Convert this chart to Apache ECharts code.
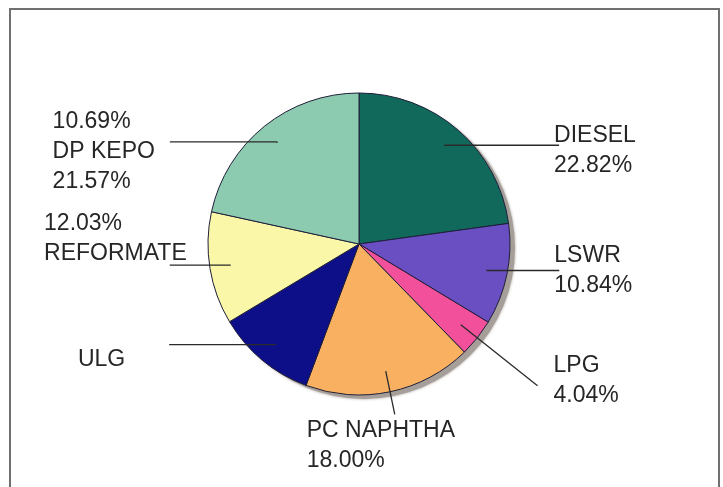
<!DOCTYPE html>
<html>
<head>
<meta charset="utf-8">
<script src="https://cdn.jsdelivr.net/npm/echarts@6/dist/echarts.min.js"></script>
<style>
html,body{margin:0;padding:0;background:#ffffff;}
#chart{width:723px;height:487px;}
</style>
</head>
<body>
<div id="chart"></div>
<script>
// ---- data ----
const categories = ['DIESEL', 'LSWR', 'LPG', 'PC NAPHTHA', 'ULG', 'REFORMATE', 'DP KEPO'];
const shares = [22.82, 10.84, 4.04, 18.00, 10.69, 12.03, 21.57];
// label rows as printed on the original chart ('n' = own name, 'p' = own share, 'p:ULG' = share of ULG)
const labelRows = [['n', 'p'], ['n', 'p'], ['n', 'p'], ['n', 'p'], ['n'], ['p', 'n'], ['p:ULG', 'n', 'p']];

// ---- styles ----
const colors = ['#11695c', '#6a4fc3', '#f2509a', '#f9b161', '#0c0f88', '#fbf7a8', '#8dcbb0'];
const labelGeom = [
  { length: 1,  length2: 114, dist: -5,  padding: [10, 0, 0, 0] },
  { length: 1,  length2: 72,  dist: -5,  padding: [0, 0, 0, 0] },
  { length: 98, length2: 0,   dist: 16,  padding: [0, 0, 10, 0] },
  { length: 44, length2: 0,   dist: -88, padding: [63, 0, 0, 0] },
  { length: 1,  length2: 106, dist: 44,  padding: [30, 0, 0, 0] },
  { length: 1,  length2: 60,  dist: -17, padding: [0, 0, 53, 0] },
  { length: 1,  length2: 107, dist: 15,  padding: [20, 0, 0, 0] }
];

const fmt = v => v.toFixed(2) + '%';
function labelText(i) {
  return labelRows[i].map(r => {
    let t;
    if (r === 'n') t = categories[i];
    else if (r === 'p') t = fmt(shares[i]);
    else t = fmt(shares[categories.indexOf(r.split(':')[1])]);
    return '{t|' + t + '}';
  }).join('\n');
}

const FONT = '"Liberation Sans", Arial, sans-serif';
const CENTER = [359, 244];

const chart = echarts.init(document.getElementById('chart'), null, { renderer: 'canvas' });

const mainData = categories.map((c, i) => ({ name: c, value: shares[i], itemStyle: { color: colors[i] } }));
const labelData = categories.map((c, i) => ({
  name: c,
  value: shares[i],
  label: {
    formatter: () => labelText(i),
    distanceToLabelLine: labelGeom[i].dist,
    padding: labelGeom[i].padding
  },
  labelLine: { length: labelGeom[i].length, length2: labelGeom[i].length2 }
}));

chart.setOption({
  backgroundColor: '#ffffff',
  animation: false,
  graphic: [{
    type: 'rect',
    shape: { x: 10, y: 9, width: 709, height: 520 },
    style: { fill: 'none', stroke: '#707070', lineWidth: 2 },
    silent: true
  }],
  series: [
    {
      // drop shadow under the pie
      type: 'pie',
      silent: true,
      z: 1,
      center: [CENTER[0] + 5, CENTER[1] + 4],
      radius: 151,
      label: { show: false },
      labelLine: { show: false },
      emphasis: { disabled: true },
      itemStyle: { color: '#a59e99', shadowBlur: 3, shadowColor: '#a59e99' },
      data: [{ name: 'shadow', value: 1 }]
    },
    {
      type: 'pie',
      silent: true,
      z: 2,
      center: CENTER,
      radius: 151,
      startAngle: 90,
      clockwise: true,
      avoidLabelOverlap: false,
      label: { show: false },
      labelLine: { show: false },
      emphasis: { disabled: true },
      itemStyle: { borderColor: '#1f1f3a', borderWidth: 1 },
      data: mainData
    },
    {
      // label layer: leader lines start inside each slice
      type: 'pie',
      silent: true,
      z: 3,
      center: CENTER,
      radius: 130,
      startAngle: 90,
      clockwise: true,
      avoidLabelOverlap: false,
      labelLayout: { hideOverlap: false, moveOverlap: null },
      emphasis: { disabled: true },
      itemStyle: { color: 'rgba(0,0,0,0)', borderWidth: 0 },
      label: {
        show: true,
        position: 'outside',
        overflow: 'none',
        color: '#262626',
        fontFamily: FONT,
        fontSize: 23,
        lineHeight: 30,
        rich: {
          t: { align: 'left', fontFamily: FONT, fontSize: 23, lineHeight: 30, color: '#262626' }
        }
      },
      labelLine: {
        show: true,
        smooth: false,
        minTurnAngle: 0,
        maxSurfaceAngle: 180,
        lineStyle: { color: '#2a2a2a', width: 1.3 }
      },
      data: labelData
    }
  ]
});
</script>
</body>
</html>
